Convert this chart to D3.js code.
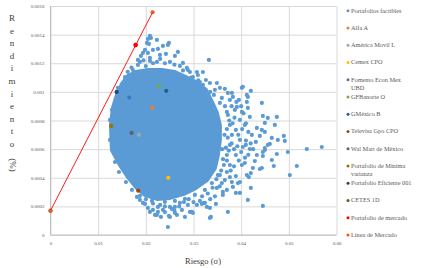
<!DOCTYPE html>
<html><head><meta charset="utf-8">
<script src="https://cdn.jsdelivr.net/npm/d3@7"></script>
<style>body{margin:0;background:#fff}svg{display:block}</style>
</head><body>
<svg id="c" width="433" height="268"></svg>
<script>
// ---------- data ----------
const xTicks = [0, 0.01, 0.02, 0.03, 0.04, 0.05, 0.06];
const xTickLabels = ["0", "0.01", "0.02", "0.03", "0.04", "0.05", "0.06"];
const yTicks = [0, 0.0002, 0.0004, 0.0006, 0.0008, 0.001, 0.0012, 0.0014, 0.0016];
const yTickLabels = ["0", "0.0002", "0.0004", "0.0006", "0.0008", "0.001", "0.0012", "0.0014", "0.0016"];

// dense core outline of the feasible portfolio cloud [risk, return]
const feasibleCore = [
 [0.01289,0.000594],[0.01268,0.000769],[0.01310,0.000888],[0.01394,0.000979],[0.01499,0.001055],
 [0.01625,0.001111],[0.01792,0.001139],[0.02044,0.001153],[0.02338,0.001153],[0.02610,0.001139],
 [0.02841,0.001104],[0.03050,0.001069],[0.03260,0.001014],[0.03386,0.000930],[0.03490,0.000853],
 [0.03553,0.000769],[0.03553,0.000664],[0.03511,0.000559],[0.03449,0.000468],[0.03281,0.000384],
 [0.03050,0.000329],[0.02799,0.000287],[0.02505,0.000259],[0.02233,0.000252],[0.01981,0.000280],
 [0.01792,0.000336],[0.01625,0.000405],[0.01457,0.000489]
];
// individual feasible portfolios [risk, return]
const feasiblePoints = [
 [0.02086,0.001391],[0.02107,0.001377],[0.02044,0.001370],[0.02233,0.001363],[0.02023,0.001342],
 [0.02065,0.001335],[0.02484,0.001342],[0.02463,0.001328],[0.02359,0.001321],[0.02254,0.001300],
 [0.02149,0.001293],[0.01981,0.001293],[0.01939,0.001272],[0.02044,0.001272],[0.02673,0.001279],
 [0.02610,0.001251],[0.01897,0.001251],[0.01876,0.001209],[0.02086,0.001237],[0.02296,0.001258],
 [0.02421,0.001265],[0.03323,0.001223],[0.02778,0.001202],[0.02862,0.001167],[0.02925,0.001139],
 [0.03071,0.001139],[0.03197,0.001139],[0.02987,0.001104],[0.03092,0.001118],[0.03344,0.001062],
 [0.03490,0.001062],[0.03134,0.001069],[0.03553,0.001028],[0.03658,0.001021],[0.04014,0.001028],
 [0.04203,0.001007],[0.03721,0.000993],[0.03826,0.000965],[0.03763,0.000944],[0.03952,0.000944],
 [0.04119,0.000930],[0.04434,0.000923],[0.03910,0.000895],[0.04014,0.000860],[0.04140,0.000888],
 [0.04559,0.000818],[0.04748,0.000825],[0.01834,0.001188],[0.01729,0.001153],[0.01667,0.001118],
 [0.01562,0.001104],[0.01499,0.001049],[0.01457,0.001028],[0.01834,0.001223],[0.04035,0.001035],
 [0.04119,0.000979],[0.03805,0.000993],[0.04140,0.000965],[0.04455,0.000832],[0.04497,0.000783],
 [0.04706,0.000769],[0.04182,0.000825],[0.04329,0.000748],[0.04497,0.000720],[0.04392,0.000692],
 [0.04895,0.000692],[0.04769,0.000664],[0.04916,0.000657],[0.04643,0.000678],[0.04559,0.000629],
 [0.05377,0.000601],[0.05692,0.000615],[0.04224,0.000699],[0.04035,0.000615],[0.04182,0.000601],
 [0.04308,0.000650],[0.04979,0.000580],[0.04748,0.000566],[0.04601,0.000636],[0.04497,0.000608],
 [0.04455,0.000580],[0.04455,0.000552],[0.04329,0.000559],[0.04643,0.000524],[0.04685,0.000482],
 [0.05168,0.000482],[0.05021,0.000419],[0.04287,0.000517],[0.04245,0.000468],[0.04392,0.000461],
 [0.04203,0.000433],[0.04161,0.000405],[0.04077,0.000503],[0.04014,0.000489],[0.04098,0.000629],
 [0.03889,0.000412],[0.03931,0.000363],[0.03805,0.000370],[0.03826,0.000336],[0.03973,0.000294],
 [0.03889,0.000294],[0.04203,0.000329],[0.04140,0.000245],[0.04455,0.000203],[0.03721,0.000161],
 [0.03616,0.000301],[0.03616,0.000280],[0.03490,0.000329],[0.03470,0.000217],[0.03344,0.000189],
 [0.03365,0.000126],[0.03700,0.000440],[0.03553,0.000419],[0.03658,0.000384],[0.03763,0.000405],
 [0.01562,0.000475],[0.01478,0.000524],[0.01813,0.000266],[0.01876,0.000245],[0.01939,0.000224],
 [0.02044,0.000189],[0.02149,0.000175],[0.02254,0.000161],[0.02359,0.000175],[0.02505,0.000196],
 [0.02610,0.000196],[0.02715,0.000224],[0.02191,0.000140],[0.02317,0.000126],[0.02505,0.000126],
 [0.02652,0.000140],[0.02820,0.000126],[0.02925,0.000161],[0.02987,0.000154],[0.03134,0.000238],
 [0.03239,0.000224],[0.03344,0.000119],[0.02463,0.000056],[0.02086,0.000161],[0.01981,0.000217],
 [0.02254,0.000196],[0.02883,0.000210],[0.02757,0.000175],[0.02233,0.000140],[0.02484,0.000133],
 [0.02610,0.000154],[0.03071,0.000210],[0.03176,0.000217],[0.03281,0.000196],[0.03218,0.000224],
 [0.02966,0.000161],[0.02547,0.000182],[0.04434,0.000734],[0.04497,0.000594],[0.04434,0.000468],
 [0.04119,0.000419],[0.03973,0.000370],[0.03700,0.000315],[0.03595,0.000363],
 [0.02086,0.001216],[0.02233,0.001209],[0.02505,0.001209],[0.02715,0.001181],[0.02883,0.001153],
 [0.01562,0.001083],[0.01415,0.001028],[0.01373,0.000944],[0.03197,0.001049],[0.03428,0.000979],
 [0.03553,0.000923],[0.03721,0.000839],[0.03763,0.000769],[0.03805,0.000699],[0.03763,0.000629],
 [0.03700,0.000559],[0.03637,0.000489],[0.03511,0.000419],[0.03386,0.000363],[0.03239,0.000315],
 [0.03029,0.000280],[0.02820,0.000252],[0.02610,0.000238],[0.02400,0.000231],[0.02128,0.000238],
 [0.01876,0.000273],[0.01709,0.000315],[0.01583,0.000370],[0.01436,0.000440],[0.01352,0.000510],
 [0.01247,0.000664],[0.01247,0.000804],[0.01289,0.000874],[0.03595,0.000958],[0.03449,0.001014],
 [0.03260,0.001083],[0.03868,0.000874],[0.03973,0.000804],[0.03889,0.000734],[0.04077,0.000769],
 [0.03973,0.000664],[0.03889,0.000559],[0.03763,0.000489],
 [0.03660,0.000900],[0.03700,0.000860],[0.03750,0.000800],[0.03820,0.000780],[0.03700,0.000740],
 [0.03650,0.000700],[0.03720,0.000680],[0.03800,0.000640],[0.03680,0.000610],[0.03740,0.000590],
 [0.03850,0.000600],[0.03920,0.000620],[0.03940,0.000700],[0.03860,0.000820],[0.03800,0.000900],
 [0.03900,0.000930],[0.04000,0.000900],[0.04050,0.000850],[0.04100,0.000780],[0.04020,0.000740],
 [0.04150,0.000720],[0.04100,0.000660],[0.04200,0.000640],[0.04250,0.000600],[0.04150,0.000560],
 [0.04080,0.000540],[0.04000,0.000580],[0.03950,0.000520],[0.03850,0.000480],[0.03780,0.000450],
 [0.03700,0.000520],[0.03600,0.000600],[0.03620,0.000530],[0.03580,0.000450],[0.03480,0.000390],
 [0.03400,0.000330],[0.03300,0.000290],[0.03180,0.000270],[0.03550,0.000340],[0.03450,0.000270],
 [0.03350,0.000250],
 [0.02000,0.001180],[0.01950,0.001220],[0.02150,0.001200],[0.02300,0.001230],[0.02400,0.001200],
 [0.02600,0.001190],[0.02780,0.001150],[0.02950,0.001100],[0.03100,0.001080],[0.03200,0.001010],
 [0.03350,0.001000],[0.01700,0.001170],[0.01620,0.001140],
 [0.02000,0.000250],[0.02150,0.000220],[0.02300,0.000210],[0.02400,0.000200],[0.02700,0.000200],
 [0.02800,0.000230],[0.02900,0.000250],[0.03000,0.000230],[0.02600,0.000170],[0.02400,0.000160]
];

// individual assets and named portfolios
const seriesNames = ["Portafolios factibles","Alfa A","América Movil L","Cemex CPO","Fomento Econ Mex UBD","GFBanorte O","GMéxico B","Televisa Gpo CPO","Wal Mart de México","Portafolio de Mínima varianza","Portafolio Eficiente 001","CETES 1D","Portafolio de mercado","Línea de Mercado"];
const seriesColors = ["#5B9BD5","#ED7D31","#A5A5A5","#FFC000","#4472C4","#70AD47","#255E91","#9E480E","#636363","#997300","#264478","#43682B","#FF0000","#F4511E"];
const assetRisk   = [null, 0.02134, 0.01855, 0.02470, 0.01652, 0.02280, 0.02428, 0.01840, 0.01702, 0.01275, 0.01388, 0.00000, 0.01786];
const assetReturn = [null, 0.000890, 0.000701, 0.000400, 0.000960, 0.001040, 0.001007, 0.000310, 0.000713, 0.000762, 0.001000, 0.000170, 0.001328];
const cmlRisk   = [0, 0.02143];
const cmlReturn = [0.000170, 0.001557];

// ---------- drawing ----------
const svg = d3.select("#c");
svg.append("rect").attr("width",433).attr("height",268).attr("fill","#fff");
const x = d3.scaleLinear().domain([0,0.06]).range([50.5,336.5]);
const y = d3.scaleLinear().domain([0,0.0016]).range([235,6]);
const serif = "'Liberation Serif','Times New Roman',serif";

// gridlines
const gx = svg.append("g").attr("transform","translate(0,235)")
  .call(d3.axisBottom(x).tickValues(xTicks).tickSize(-229).tickFormat((d,i)=>xTickLabels[i]).tickPadding(6));
gx.select(".domain").remove();
gx.selectAll("line").attr("stroke","#D9D9D9").attr("stroke-width",1);
gx.selectAll("text").attr("font-family",serif).attr("font-size",5).attr("fill","#595959");
const gy = svg.append("g").attr("transform","translate(50.5,0)")
  .call(d3.axisLeft(y).tickValues(yTicks).tickSize(-286).tickFormat((d,i)=>yTickLabels[i]).tickPadding(6));
gy.select(".domain").remove();
gy.selectAll("line").attr("stroke","#D9D9D9").attr("stroke-width",1);
gy.selectAll("text").attr("font-family",serif).attr("font-size",5).attr("fill","#595959");
// axis lines
svg.append("line").attr("x1",x(0)).attr("x2",x(0.06)).attr("y1",y(0)).attr("y2",y(0)).attr("stroke","#BFBFBF");
svg.append("line").attr("x1",x(0)).attr("x2",x(0)).attr("y1",y(0)).attr("y2",y(0.0016)).attr("stroke","#BFBFBF");

// feasible cloud
svg.append("path").datum(feasibleCore)
  .attr("d", d3.line().x(d=>x(d[0])).y(d=>y(d[1])).curve(d3.curveLinearClosed))
  .attr("fill","#5B9BD5").attr("stroke","#5B9BD5").attr("stroke-width",4).attr("stroke-linejoin","round");
svg.append("g").selectAll("circle").data(feasiblePoints).join("circle")
  .attr("cx",d=>x(d[0])).attr("cy",d=>y(d[1])).attr("r",2.1).attr("fill","#5B9BD5");

// named points
const named = assetRisk.map((r,i)=>({r, v:assetReturn[i], c:seriesColors[i]})).filter(d=>d.r!==null);
svg.append("g").selectAll("circle").data(named).join("circle")
  .attr("cx",d=>x(d.r)).attr("cy",d=>y(d.v)).attr("r",2.1).attr("fill",d=>d.c);

// capital market line
const cml = cmlRisk.map((r,i)=>[r,cmlReturn[i]]);
svg.append("path").datum(cml)
  .attr("d", d3.line().x(d=>x(d[0])).y(d=>y(d[1])))
  .attr("fill","none").attr("stroke","#FF1A1A").attr("stroke-width",1);
svg.append("g").selectAll("circle").data(cml).join("circle")
  .attr("cx",d=>x(d[0])).attr("cy",d=>y(d[1])).attr("r",2).attr("fill",seriesColors[13]);
// market portfolio on top of the line
svg.append("circle").attr("cx",x(assetRisk[12])).attr("cy",y(assetReturn[12])).attr("r",2.2).attr("fill",seriesColors[12]);

// axis titles
svg.append("text").attr("x",203).attr("y",264).attr("text-anchor","middle")
  .attr("font-family",serif).attr("font-size",8.5).attr("fill","#404040").text("Riesgo (σ)");
const yTitle = "Rendimiento".split("");
svg.append("g").selectAll("text").data(yTitle).join("text")
  .attr("x",12).attr("y",(d,i)=>21+i*12.6).attr("text-anchor","middle")
  .attr("font-family",serif).attr("font-size",9).attr("fill","#404040").text(d=>d);
svg.append("text").attr("transform","translate(12,165) rotate(90)").attr("text-anchor","middle")
  .attr("dominant-baseline","middle").attr("font-family",serif).attr("font-size",9).attr("fill","#404040").text("(%)");

// legend
const lg = svg.append("g");
seriesNames.forEach((name,i)=>{
  const cy = 10.7 + i*17.25;
  lg.append("circle").attr("cx",348).attr("cy",cy).attr("r",1.5).attr("fill",seriesColors[i]);
  let lines = [name];
  if (name==="Fomento Econ Mex UBD") lines = ["Fomento Econ Mex","UBD"];
  if (name==="Portafolio de Mínima varianza") lines = ["Portafolio de Mínima","varianza"];
  lines.forEach((t,j)=>{
    lg.append("text").attr("x",351).attr("y",cy+2+j*8).attr("font-family",serif)
      .attr("font-size",6.3).attr("fill","#595959").text(t);
  });
});
</script>
</body></html>
